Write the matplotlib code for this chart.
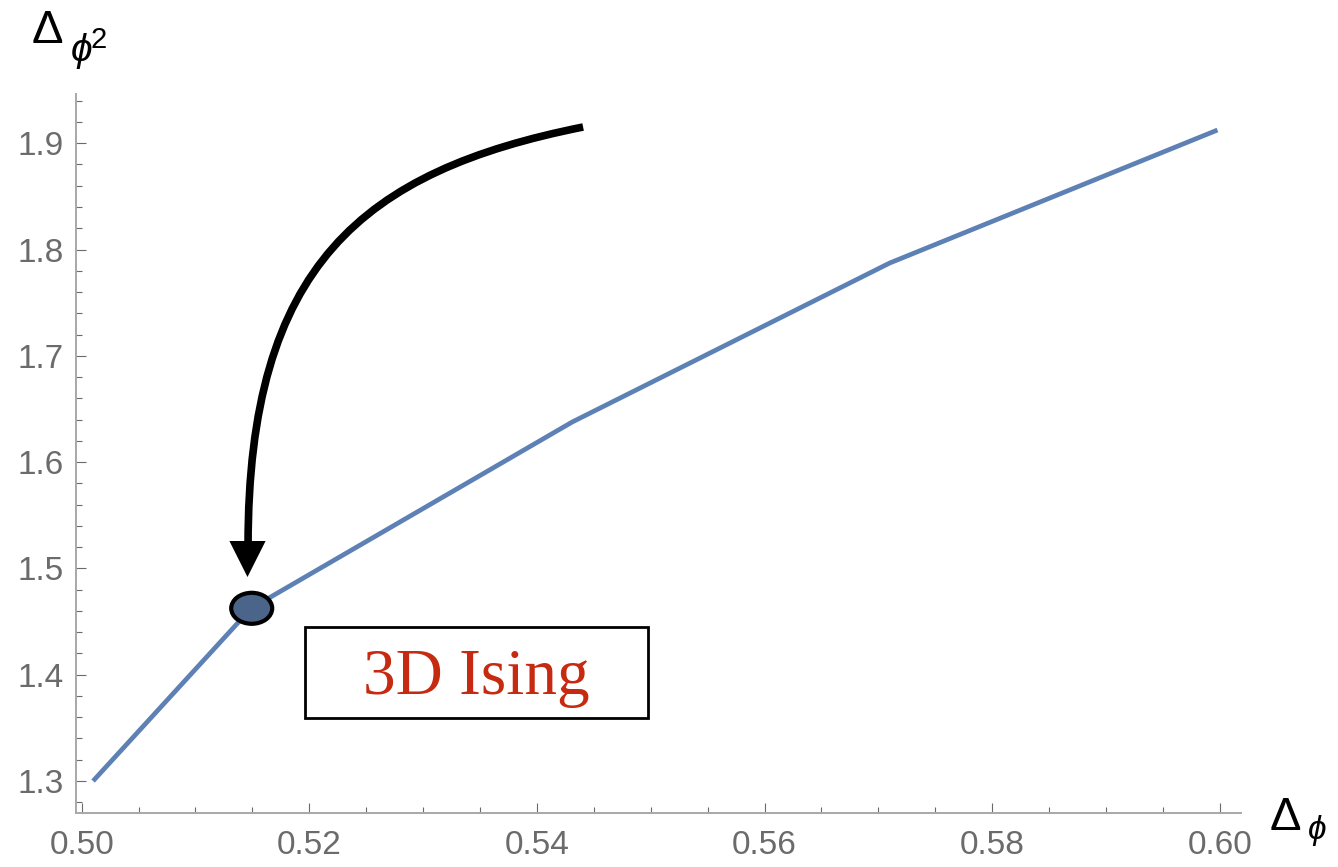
import matplotlib
matplotlib.use('Agg')
import matplotlib.pyplot as plt
from matplotlib.patches import Ellipse, Rectangle, PathPatch, Polygon
from matplotlib.path import Path
from matplotlib.ticker import FixedLocator, MultipleLocator, FixedFormatter

# ---- data ----
delta_phi = [0.5010, 0.5149, 0.5431, 0.5710, 0.5998]
delta_phi2 = [1.3000, 1.4625, 1.6377, 1.7873, 1.9124]
ising_x = 0.51494
ising_y = 1.46247
x_ticks = [0.50, 0.52, 0.54, 0.56, 0.58, 0.60]
x_tick_labels = ['0.50', '0.52', '0.54', '0.56', '0.58', '0.60']
y_ticks = [1.3, 1.4, 1.5, 1.6, 1.7, 1.8, 1.9]
y_tick_labels = ['1.3', '1.4', '1.5', '1.6', '1.7', '1.8', '1.9']
label_text = '3D Ising'

plt.rcParams['font.family'] = ['Liberation Sans', 'DejaVu Sans']
plt.rcParams['mathtext.fontset'] = 'custom'
plt.rcParams['mathtext.rm'] = 'Liberation Sans'
plt.rcParams['mathtext.it'] = 'Liberation Sans:italic'

W, H = 1338, 867
fig = plt.figure(figsize=(W / 100, H / 100), dpi=100)
ax = fig.add_axes([76 / W, 1 - 813 / H, (1241 - 76) / W, (813 - 94) / H])
ax.set_xlim(0.4995, 0.60187)
ax.set_ylim(1.2699, 1.9463)

ax.plot(delta_phi, delta_phi2, color='#5E81B5', lw=3.4, solid_capstyle='butt', zorder=3)

# spines
for s in ['top', 'right']:
    ax.spines[s].set_visible(False)
for s in ['left', 'bottom']:
    ax.spines[s].set_color('#a8a8a8')
    ax.spines[s].set_linewidth(1.4)

ax.xaxis.set_major_locator(FixedLocator(x_ticks))
ax.xaxis.set_major_formatter(FixedFormatter(x_tick_labels))
ax.xaxis.set_minor_locator(MultipleLocator(0.005))
ax.yaxis.set_major_locator(FixedLocator(y_ticks))
ax.yaxis.set_major_formatter(FixedFormatter(y_tick_labels))
ax.yaxis.set_minor_locator(MultipleLocator(0.02))

ax.tick_params(which='major', direction='in', length=7, width=0.8, color='#6a6a6a',
               labelsize=24, labelcolor='#6b6b6b')
ax.tick_params(which='minor', direction='in', length=4, width=0.8, color='#6a6a6a')
ax.tick_params(axis='x', which='major', pad=12)
ax.tick_params(axis='y', which='major', pad=9)

# ellipse marker at 3D Ising point
ell = Ellipse((ising_x, ising_y), width=41 / 11380, height=31 / 1063,
              facecolor='#4b6489', edgecolor='black', lw=3.0, zorder=5)
ax.add_patch(ell)

# curved arrow
verts = [(0.54406, 1.91524), (0.52472, 1.87385), (0.51462, 1.78542), (0.51462, 1.52201)]
codes = [Path.MOVETO, Path.CURVE4, Path.CURVE4, Path.CURVE4]
shaft = PathPatch(Path(verts, codes), facecolor='none', edgecolor='black', lw=5.5,
                  capstyle='butt', zorder=4)
ax.add_patch(shaft)
head = Polygon([(0.51298, 1.52578), (0.51616, 1.52578), (0.51457, 1.49191)],
               closed=True, facecolor='black', edgecolor='none', zorder=4)
ax.add_patch(head)

# label box
box = Rectangle((0.51963, 1.35927), 0.54977 - 0.51963, 1.44487 - 1.35927,
                facecolor='white', edgecolor='black', lw=2.0, zorder=4)
ax.add_patch(box)
ax.text(0.53469, 1.38184, label_text, family='Liberation Serif', fontsize=47,
        color='#c62a10', ha='center', va='baseline', zorder=6)

# axis labels (built from pieces to mimic the reference sizes)
fig.text(32 / W, 1 - 43 / H, '\u0394', fontsize=34, ha='left', va='baseline')
fig.text(70 / W, 1 - 61 / H, r'$\phi$', fontsize=28, ha='left', va='baseline')
fig.text(91 / W, 1 - 48 / H, '2', fontsize=21, ha='left', va='baseline')

fig.text(1270 / W, 1 - 830 / H, '\u0394', fontsize=34, ha='left', va='baseline')
fig.text(1307 / W, 1 - 839 / H, r'$\phi$', fontsize=24, ha='left', va='baseline')

fig.savefig('out.png', dpi=100)
